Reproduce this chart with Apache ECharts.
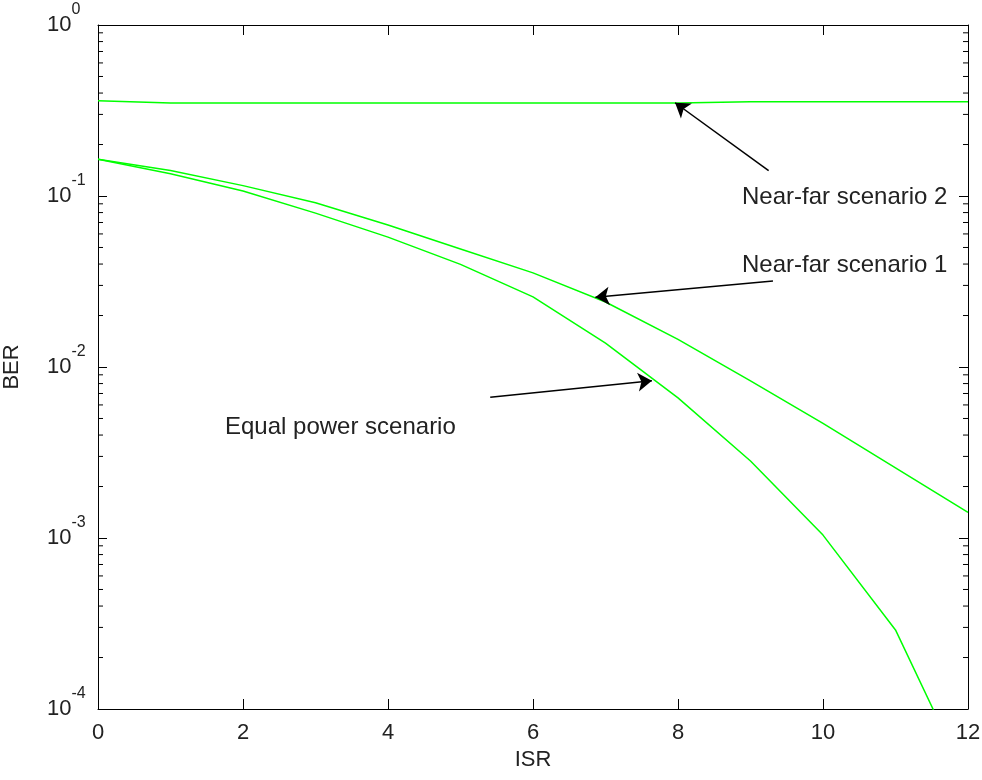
<!DOCTYPE html>
<html>
<head>
<meta charset="utf-8">
<script src="https://cdn.jsdelivr.net/npm/echarts@6/dist/echarts.min.js"></script>
<style>
html,body{margin:0;padding:0;background:#fff;}
#chart{width:982px;height:780px;}
</style>
</head>
<body>
<div id="chart"></div>
<script>
// ---- data ----
var isr = [0, 1, 2, 3, 4, 5, 6, 7, 8, 9, 10, 11, 12];
var nearFar2 = [0.36, 0.35, 0.35, 0.35, 0.35, 0.35, 0.35, 0.35, 0.35, 0.356, 0.356, 0.356, 0.356];
var nearFar1 = [0.164, 0.141, 0.115, 0.0912, 0.0676, 0.049, 0.0355, 0.024, 0.0145, 0.0083, 0.00468, 0.00257, 0.00141];
var equalPower = [0.164, 0.135, 0.107, 0.0794, 0.0575, 0.0398, 0.0257, 0.0138, 0.0066, 0.00282, 0.00104, 0.00029, 0.000037];
var xTicks = [0, 2, 4, 6, 8, 10, 12];
var minorTickValues = [];
[1e-4, 1e-3, 1e-2, 1e-1].forEach(function (d) {
  for (var k = 2; k <= 9; k++) minorTickValues.push(k * d);
});
// annotation arrows: [tail, tip] in data coordinates (ISR, BER)
var arrowNF2 = [[9.25, 0.1406], [7.96, 0.351]];
var arrowNF1 = [[9.31, 0.0318], [6.86, 0.0256]];
var arrowEP = [[5.41, 0.00665], [7.64, 0.00832]];
var annotationTexts = ['Near-far scenario 2', 'Near-far scenario 1', 'Equal power scenario'];

function pairs(xs, ys) { return xs.map(function (x, i) { return [x, ys[i]]; }); }

var FONT = '"Liberation Sans", Arial, sans-serif';
var TXT = '#222';
var GREEN = '#00ff00';

var chart = echarts.init(document.getElementById('chart'), null, {renderer: 'canvas'});

function arrowLine(a) {
  return [{coord: a[0]}, {coord: a[1]}];
}

var option = {
  animation: false,
  backgroundColor: '#fff',
  grid: {left: 98, top: 25, right: 14, bottom: 71, containLabel: false, outerBoundsMode: 'none'},
  xAxis: [{
    type: 'value', min: 0, max: 12, interval: 2, position: 'bottom',
    name: 'ISR', nameLocation: 'middle', nameGap: 40,
    nameTextStyle: {fontFamily: FONT, fontSize: 22, color: TXT},
    axisLine: {show: true, onZero: false, lineStyle: {color: '#000', width: 1}},
    axisTick: {show: true, inside: true, length: 10, lineStyle: {color: '#000'}},
    axisLabel: {fontFamily: FONT, fontSize: 22, color: TXT, margin: 13},
    splitLine: {show: false}
  }, {
    type: 'value', min: 0, max: 12, interval: 2, position: 'top',
    axisLine: {show: true, onZero: false, lineStyle: {color: '#000', width: 1}},
    axisTick: {show: true, inside: true, length: 10, lineStyle: {color: '#000'}},
    axisLabel: {show: false},
    splitLine: {show: false}
  }],
  yAxis: [{
    type: 'log', logBase: 10, min: 1e-4, max: 1, position: 'left',
    name: 'BER', nameLocation: 'middle', nameGap: 75, nameRotate: 90,
    nameTextStyle: {fontFamily: FONT, fontSize: 22, color: TXT},
    axisLine: {show: true, onZero: false, lineStyle: {color: '#000', width: 1}},
    axisTick: {show: true, inside: true, length: 9, lineStyle: {color: '#000'}},
    axisLabel: {
      align: 'left', margin: 51, color: TXT,
      formatter: function (v) {
        var e = Math.round(Math.log(v) / Math.LN10);
        return '{b|10}{s|' + e + '}';
      },
      rich: {
        b: {fontFamily: FONT, fontSize: 22, color: TXT, lineHeight: 46, verticalAlign: 'middle'},
        s: {fontFamily: FONT, fontSize: 16, color: TXT, lineHeight: 16, verticalAlign: 'top'}
      }
    },
    splitLine: {show: false}
  }, {
    type: 'log', logBase: 10, min: 1e-4, max: 1, position: 'right',
    axisLine: {show: true, onZero: false, lineStyle: {color: '#000', width: 1}},
    axisTick: {show: true, inside: true, length: 9, lineStyle: {color: '#000'}},
    axisLabel: {show: false},
    splitLine: {show: false}
  }],
  series: [{
    name: 'Near-far scenario 2', type: 'line', xAxisIndex: 0, yAxisIndex: 0,
    data: pairs(isr, nearFar2), showSymbol: false, symbol: 'none',
    lineStyle: {color: GREEN, width: 1.5}, clip: true,
    markLine: {
      silent: true, symbol: ['none', 'arrow'], symbolSize: 14,
      lineStyle: {color: '#000', width: 1.5, type: 'solid'},
      label: {show: false},
      data: [arrowLine(arrowNF2), arrowLine(arrowNF1), arrowLine(arrowEP)]
    }
  }, {
    name: 'Near-far scenario 1', type: 'line', xAxisIndex: 0, yAxisIndex: 0,
    data: pairs(isr, nearFar1), showSymbol: false, symbol: 'none',
    lineStyle: {color: GREEN, width: 1.5}, clip: true
  }, {
    name: 'Equal power scenario', type: 'line', xAxisIndex: 0, yAxisIndex: 0,
    data: pairs(isr, equalPower), showSymbol: false, symbol: 'none',
    lineStyle: {color: GREEN, width: 1.5}, clip: true
  }, {
    name: 'minorTicks', type: 'custom', xAxisIndex: 0, yAxisIndex: 0, silent: true,
    data: minorTickValues.map(function (v) { return [0, v]; }),
    renderItem: function (params, api) {
      var cs = params.coordSys;
      var y = api.coord([0, api.value(1)])[1];
      return {
        type: 'group',
        children: [
          {type: 'line', shape: {x1: cs.x, y1: y, x2: cs.x + 5, y2: y}, style: {stroke: '#000', lineWidth: 1}},
          {type: 'line', shape: {x1: cs.x + cs.width - 5, y1: y, x2: cs.x + cs.width, y2: y}, style: {stroke: '#000', lineWidth: 1}}
        ]
      };
    }
  }],
  graphic: [
    {type: 'text', x: 742, y: 197, style: {text: annotationTexts[0], font: '24px ' + FONT, fill: TXT, verticalAlign: 'middle', align: 'left'}},
    {type: 'text', x: 742, y: 265, style: {text: annotationTexts[1], font: '24px ' + FONT, fill: TXT, verticalAlign: 'middle', align: 'left'}},
    {type: 'text', x: 225, y: 427, style: {text: annotationTexts[2], font: '24px ' + FONT, fill: TXT, verticalAlign: 'middle', align: 'left'}}
  ]
};
chart.setOption(option);
</script>
</body>
</html>
